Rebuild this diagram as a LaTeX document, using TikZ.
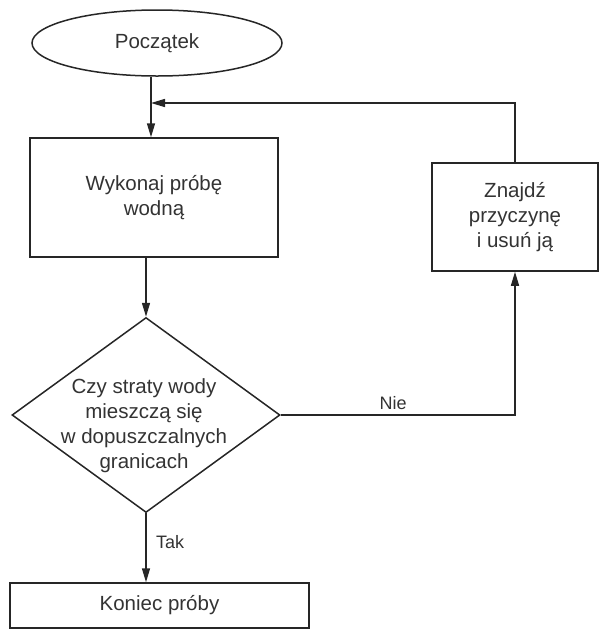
\documentclass[tikz,border=0pt]{standalone}
\usepackage{fontspec}
\setmainfont{Liberation Sans}
\usetikzlibrary{shapes.geometric,arrows.meta}
\tikzset{
  ln/.style={line width=1.5pt, draw=black!85},
  arr/.style={ln, -{Triangle[length=14pt,width=8pt]}},
  txt/.style={text=black!80, font=\fontsize{20.5}{25}\selectfont, align=center},
  lbl/.style={text=black!80, font=\fontsize{18}{22}\selectfont},
  boxnode/.style={ln, rectangle, txt, inner sep=0pt},
}
\begin{document}
\begin{tikzpicture}[x=1pt,y=-1pt]
\useasboundingbox (0,0) rectangle (601,630);
\node[ln, ellipse, txt, minimum width=250pt, minimum height=66pt, inner sep=0pt] (start) at (157,43) {Początek};
\node[boxnode, minimum width=248pt, minimum height=119pt] (wyk) at (154,197.5) {Wykonaj próbę\\wodną};
\node[ln, diamond, minimum width=268pt, minimum height=195pt, inner sep=0pt] (dec) at (146,415) {};
\node[txt] (dect) at (144,426) {Czy straty wody\\mieszczą się\\w dopuszczalnych\\granicach};
\node[boxnode, minimum width=166pt, minimum height=108pt] (fix) at (515,217) {Znajdź\\przyczynę\\i usuń ją};
\node[boxnode, minimum width=299pt, minimum height=45pt] (end) at (159.5,605.5) {Koniec próby};
\coordinate (j) at (151,103);
\draw[arr] (start.south -| j) -- (wyk.north -| j);
\draw[arr] (fix.north) |- (j);
\draw[arr] (wyk.south -| dec.north) -- (dec.north);
\draw[arr] (dec.east) -| node[lbl, pos=0.24, above=1pt] (nie) {Nie} (fix.south);
\draw[arr] (dec.south) -- node[lbl, pos=0.42, right=6pt] (tak) {Tak} (end.north -| dec.south);
\end{tikzpicture}
\end{document}
